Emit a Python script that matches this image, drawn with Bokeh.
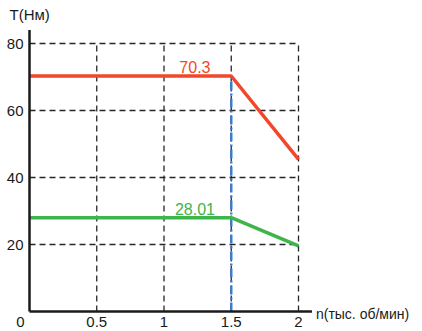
from bokeh.plotting import figure
from bokeh.models import Range1d
from bokeh.core.properties import value
from bokeh.embed import file_html
from bokeh.resources import INLINE

# ---- data ----
x_ticks = [0.5, 1, 1.5, 2]
x_tick_labels = ["0.5", "1", "1.5", "2"]
y_ticks = [20, 40, 60, 80]
y_tick_labels = ["20", "40", "60", "80"]
origin_label = "0"

red_x = [0, 1.5, 2]
red_y = [70.3, 70.3, 45.4]
green_x = [0, 1.5, 2]
green_y = [28.01, 28.01, 19.6]
red_label = "70.3"
green_label = "28.01"
knee_x = 1.5

x_axis_max = 2.1
y_axis_max = 84
x_title = "n(тыс. об/мин)"
y_title = "T(Нм)"

# ---- layout (pixel mapping) ----
W, H = 422, 331
x0_px, x2_px = 29, 298          # canvas px for x=0 and x=2
y80_px, y0_px = 43, 311         # canvas px (from top) for y=80 and y=0
sx = (x2_px - x0_px) / 2.0
sy = (y0_px - y80_px) / 80.0
xr = Range1d(-x0_px / sx, (W - x0_px) / sx)
yr = Range1d(-(H - y0_px) / sy, y0_px / sy)

FONT = "Liberation Sans"
GRID = "#262626"
RED = "#f2472a"
GREEN = "#3db54a"
BLUE = "#3d7cc9"

p = figure(width=W, height=H, x_range=xr, y_range=yr, output_backend="svg",
           toolbar_location=None, min_border=0, outline_line_color=None)
p.axis.visible = False
p.grid.visible = False
p.background_fill_color = "white"
p.border_fill_color = "white"

# dashed grid
p.segment(x0=[0] * len(y_ticks), y0=y_ticks, x1=[max(x_ticks)] * len(y_ticks), y1=y_ticks,
          line_color=GRID, line_width=1.3, line_dash="6 4")
p.segment(x0=x_ticks, y0=[0] * len(x_ticks), x1=x_ticks, y1=[max(y_ticks)] * len(x_ticks),
          line_color=GRID, line_width=1.3, line_dash="6 4")

# blue dash-dot at knee
p.segment(x0=[knee_x], y0=[0], x1=[knee_x], y1=[red_y[1]],
          line_color=BLUE, line_width=2.5, line_dash="9 3 2 3")

# curves
p.line(red_x, red_y, line_color=RED, line_width=3.5)
p.line(green_x, green_y, line_color=GREEN, line_width=3.5)

# axes
p.segment(x0=[0, 0], y0=[0, 0], x1=[x_axis_max, 0], y1=[0, y_axis_max],
          line_color="#1a1a1a", line_width=2.5)

# tick labels
p.text(x=x_ticks, y=[0] * len(x_ticks), text=x_tick_labels, text_align="center",
       text_baseline="top", y_offset=5, text_font=value(FONT), text_font_size="15px",
       text_color="#1a1a1a")
p.text(x=[0], y=[0], text=[origin_label], text_align="center", text_baseline="top",
       x_offset=-9, y_offset=5, text_font=value(FONT), text_font_size="15px",
       text_color="#1a1a1a")
p.text(x=[0] * len(y_ticks), y=y_ticks, text=y_tick_labels, text_align="right",
       text_baseline="middle", x_offset=-6, text_font=value(FONT),
       text_font_size="15px", text_color="#1a1a1a")

# axis titles
p.text(x=[x_axis_max], y=[0], text=[x_title], text_align="left", text_baseline="middle",
       x_offset=4, y_offset=2, text_font=value(FONT), text_font_size="14px",
       text_color="#1a1a1a")
p.text(x=[0], y=[yr.end], text=[y_title], text_align="left", text_baseline="top",
       x_offset=-20, y_offset=5, text_font=value(FONT), text_font_size="15px",
       text_color="#1a1a1a")

# value labels
lx = (red_x[0] + red_x[1]) * 0.5 + 0.48
p.text(x=[lx], y=[red_y[1]], text=[red_label], text_align="center",
       text_baseline="bottom", y_offset=-3, text_font=value(FONT),
       text_font_size="16px", text_color=RED)
p.text(x=[lx], y=[green_y[1]], text=[green_label], text_align="center",
       text_baseline="bottom", y_offset=-3, text_font=value(FONT),
       text_font_size="16px", text_color=GREEN)

open("out.html", "w").write(file_html(p, INLINE))
